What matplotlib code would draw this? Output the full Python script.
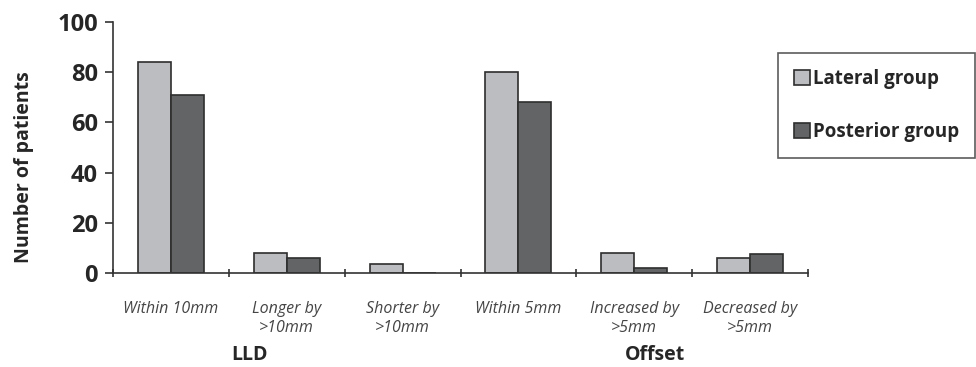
import numpy as np
import matplotlib
matplotlib.use('Agg')
import matplotlib.pyplot as plt

plt.rcParams['font.family'] = ['Open Sans', 'DejaVu Sans']

categories = ['Within 10mm', 'Longer by\n>10mm', 'Shorter by\n>10mm',
              'Within 5mm', 'Increased by\n>5mm', 'Decreased by\n>5mm']
lateral = [84, 8, 3.5, 80, 8, 6]
posterior = [71, 6, 0, 68, 2, 7.5]
groups = ['LLD', 'Offset']
group_pos = [0.68, 4.18]
yticks = [0, 20, 40, 60, 80, 100]

fig = plt.figure(figsize=(9.76, 3.67), dpi=100)
ax = fig.add_axes([113/976, 1 - 273/367, 695/976, 251/367])

x = np.arange(len(categories))
w = 0.285
ax.bar(x - w/2, lateral, w, color='#bcbdc0', edgecolor='#2e2e2e', linewidth=1.2,
       label='Lateral group')
ax.bar(x + w/2, posterior, w, color='#636466', edgecolor='#2e2e2e', linewidth=1.2,
       label='Posterior group')

ax.set_xlim(-0.5, len(categories) - 0.5)
ax.set_ylim(0, 100)
ax.set_yticks(yticks)
ax.set_yticklabels([str(v) for v in yticks], fontsize=17, fontweight='bold', color='#262626')
ax.set_ylabel('Number of patients', fontsize=14, fontweight='bold', color='#262626')
ax.yaxis.set_label_coords(-0.114, 0.42)

# ticks at category boundaries, labels at centers
ax.set_xticks(np.arange(-0.5, len(categories)), minor=False)
ax.set_xticklabels([])
ax.set_xticks(x, minor=True)
ax.set_xticklabels(categories, minor=True, fontsize=11.5, style='italic', color='#454545',
                   linespacing=1.3)
ax.tick_params(axis='x', which='minor', length=0, pad=20)
ax.tick_params(axis='x', which='major', length=6, width=1.2, color='#333333', direction='inout')
ax.tick_params(axis='y', length=6, width=1.2, color='#333333', direction='out', pad=5)

for s in ['top', 'right']:
    ax.spines[s].set_visible(False)
for s in ['left', 'bottom']:
    ax.spines[s].set_color('#333333')
    ax.spines[s].set_linewidth(1.2)

for g, gx in zip(groups, group_pos):
    ax.text(gx, -32.6, g, ha='center', va='center', fontsize=14, fontweight='bold',
            color='#262626')

leg = fig.legend(loc='upper left', bbox_to_anchor=(778/976, 1 - 53/367),
                 prop={'weight': 'bold', 'size': 13.5},
                 frameon=True, fancybox=False, edgecolor='#333333',
                 labelspacing=1.75, handlelength=0.85, handleheight=0.85,
                 handletextpad=0.15, borderpad=0.85, borderaxespad=0)
leg.get_frame().set_linewidth(1.2)
for t in leg.get_texts():
    t.set_color('#262626')

fig.savefig('out.png', dpi=100)
